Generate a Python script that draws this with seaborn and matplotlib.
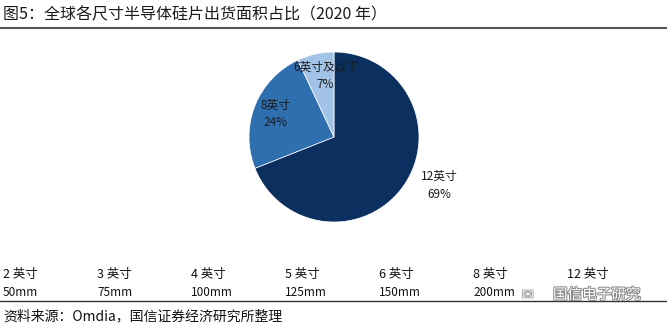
import matplotlib
matplotlib.use("Agg")
import matplotlib.pyplot as plt
import matplotlib.patheffects as pe
import seaborn as sns

# ---- data ----
categories = ["12英寸", "8英寸", "6英寸及以下"]
shares = [69, 24, 7]
colors = ["#0b3060", "#2f6fb0", "#a2c3e6"]
label_pos = [(1.24, -0.57), (-0.69, 0.27), (-0.10, 0.72)]

size_labels = ["2 英寸", "3 英寸", "4 英寸", "5 英寸", "6 英寸", "8 英寸", "12 英寸"]
size_mm = ["50mm", "75mm", "100mm", "125mm", "150mm", "200mm", ""]

title = "图5：全球各尺寸半导体硅片出货面积占比（2020 年）"
source = "资料来源：Omdia，国信证券经济研究所整理"
watermark = "国信电子研究"

sns.set_theme(style="white")
plt.rcParams["font.family"] = ["Noto Sans CJK SC", "DejaVu Sans"]

W, H = 667, 325
fig = plt.figure(figsize=(W / 100, H / 100), dpi=100)
fig.patch.set_facecolor("white")

def fx(x):
    return x / W

def fy(y):
    return 1 - y / H

# title and rules
fig.text(fx(3), fy(15), title, fontsize=11.5, color="#1a1a1a", va="center", ha="left",
         fontweight="medium")
fig.add_artist(plt.Line2D([0, 1], [fy(28), fy(28)], color="#555555", lw=1.5))
fig.add_artist(plt.Line2D([0, 1], [fy(301), fy(301)], color="#333333", lw=1.0))

# pie
cx, cy, r = 334, 137, 85
ax = fig.add_axes([fx(cx - r), fy(cy + r), 2 * r / W, 2 * r / H])
ax.pie(shares, colors=colors, startangle=90, counterclock=False, radius=1,
       wedgeprops=dict(linewidth=0.5, edgecolor="white"))
ax.set_xlim(-1, 1)
ax.set_ylim(-1, 1)
ax.axis("off")
for cat, val, (lx, ly) in zip(categories, shares, label_pos):
    ax.text(lx, ly, f"{cat}\n{val}%", ha="center", va="center", fontsize=8.5,
            color="#1a1a1a", linespacing=1.45)

# size table
col_x = [3, 97, 191, 285, 379, 473, 567]
for x, lab, mm in zip(col_x, size_labels, size_mm):
    fig.text(fx(x), fy(274), lab, fontsize=9, color="#111111", va="center", ha="left")
    if mm:
        fig.text(fx(x), fy(293), mm, fontsize=8.5, color="#111111", va="center", ha="left")

# watermark
fig.text(fx(553), fy(295), watermark, fontsize=10.5, color="white", va="center", ha="left",
         path_effects=[pe.withStroke(linewidth=1.5, foreground="#8a8a8a")])
fig.text(fx(522), fy(295), "✉", fontsize=10, color="white", va="center", ha="left",
         family=["DejaVu Sans"],
         path_effects=[pe.withStroke(linewidth=1.2, foreground="#9a9a9a")])

# source
fig.text(fx(3), fy(316), source, fontsize=10, color="#111111", va="center", ha="left")

fig.savefig("out.png", dpi=100, facecolor="white")
